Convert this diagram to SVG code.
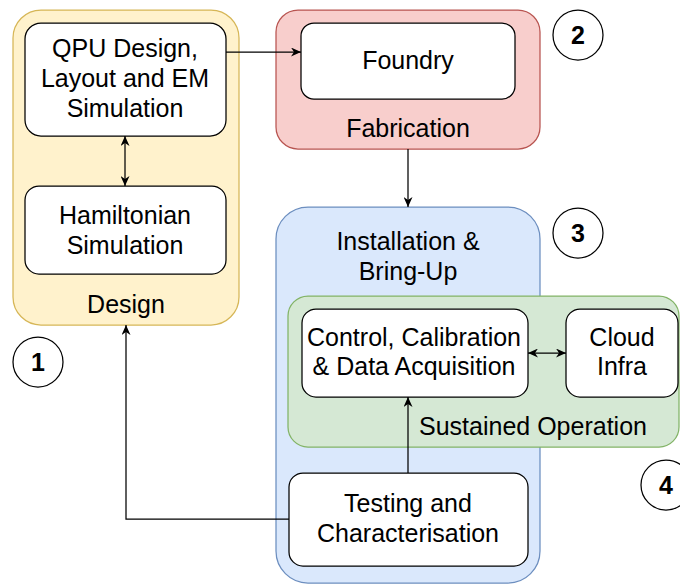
<svg xmlns="http://www.w3.org/2000/svg" width="680" height="584" viewBox="0 0 680 584">
<defs>
<style>
.t{font-family:"Liberation Sans",Arial,Helvetica,sans-serif;font-size:25px;fill:#000;text-anchor:middle}
.n{font-family:"Liberation Sans",Arial,Helvetica,sans-serif;font-size:25px;font-weight:bold;fill:#000;text-anchor:middle}
.box{fill:#fff;stroke:#000;stroke-width:1.25}
.c{fill:#fff;stroke:#000;stroke-width:1.25}
.ln{fill:none;stroke:#000;stroke-width:1.25}
</style>
<marker id="ah" markerUnits="userSpaceOnUse" markerWidth="10" markerHeight="9" viewBox="0 0 10 9" refX="10" refY="4.5" orient="auto-start-reverse">
<path d="M0,0 L10,4.5 L0,9 L3,4.5 Z" fill="#000"/>
</marker>
</defs>
<rect width="680" height="584" fill="#fff"/>

<g id="design">
<rect x="13" y="10" width="226" height="315" rx="28" fill="#fff2cc" stroke="#d6b656" stroke-width="1.25"/>
<text class="t" x="126" y="313">Design</text>
</g>
<g id="fabrication">
<rect x="276" y="10" width="264" height="139" rx="22" fill="#f8cecc" stroke="#b85450" stroke-width="1.25"/>
<text class="t" x="408" y="137">Fabrication</text>
</g>
<g id="installation">
<rect x="276" y="207" width="264" height="376" rx="32" fill="#dae8fc" stroke="#6c8ebf" stroke-width="1.25"/>
<text class="t" x="408" y="250">Installation &amp;</text>
<text class="t" x="408" y="280">Bring-Up</text>
</g>
<g id="sustained">
<rect x="288" y="296" width="391" height="151" rx="20" fill="#d5e8d4" stroke="#82b366" stroke-width="1.25"/>
<text class="t" x="533" y="435">Sustained Operation</text>
</g>

<g id="qpu">
<rect class="box" x="25" y="23" width="201" height="113" rx="16"/>
<text class="t" x="125" y="57">QPU Design,</text>
<text class="t" x="125" y="87">Layout and EM</text>
<text class="t" x="125" y="117">Simulation</text>
</g>
<g id="hamiltonian">
<rect class="box" x="25" y="186" width="201" height="88" rx="14"/>
<text class="t" x="125" y="224">Hamiltonian</text>
<text class="t" x="125" y="254">Simulation</text>
</g>
<g id="foundry">
<rect class="box" x="301" y="23" width="214" height="76" rx="13"/>
<text class="t" x="408" y="69">Foundry</text>
</g>
<g id="control">
<rect class="box" x="302" y="309" width="226" height="88" rx="14"/>
<text class="t" x="414" y="346">Control, Calibration</text>
<text class="t" x="414" y="375">&amp; Data Acquisition</text>
</g>
<g id="cloud">
<rect class="box" x="566" y="309" width="112" height="88" rx="14"/>
<text class="t" x="622" y="346">Cloud</text>
<text class="t" x="622" y="375">Infra</text>
</g>
<g id="testing">
<rect class="box" x="289" y="473" width="239" height="93" rx="14"/>
<text class="t" x="408" y="512">Testing and</text>
<text class="t" x="408" y="542">Characterisation</text>
</g>

<g id="badge1"><circle class="c" cx="38" cy="362" r="25"/><text class="n" x="38" y="371">1</text></g>
<g id="badge2"><circle class="c" cx="578" cy="35" r="25"/><text class="n" x="578" y="44">2</text></g>
<g id="badge3"><circle class="c" cx="578" cy="233" r="25"/><text class="n" x="578" y="242">3</text></g>
<g id="badge4"><circle class="c" cx="666" cy="485" r="25"/><text class="n" x="666" y="494">4</text></g>

<g id="connectors">
<line class="ln" x1="226" y1="52" x2="301" y2="52" marker-end="url(#ah)"/>
<line class="ln" x1="125" y1="136" x2="125" y2="186" marker-start="url(#ah)" marker-end="url(#ah)"/>
<line class="ln" x1="408" y1="149" x2="408" y2="207" marker-end="url(#ah)"/>
<line class="ln" x1="528" y1="353" x2="566" y2="353" marker-start="url(#ah)" marker-end="url(#ah)"/>
<line class="ln" x1="408" y1="473" x2="408" y2="397" marker-end="url(#ah)"/>
<polyline class="ln" points="289,519 126,519 126,325" marker-end="url(#ah)"/>
</g>
</svg>
